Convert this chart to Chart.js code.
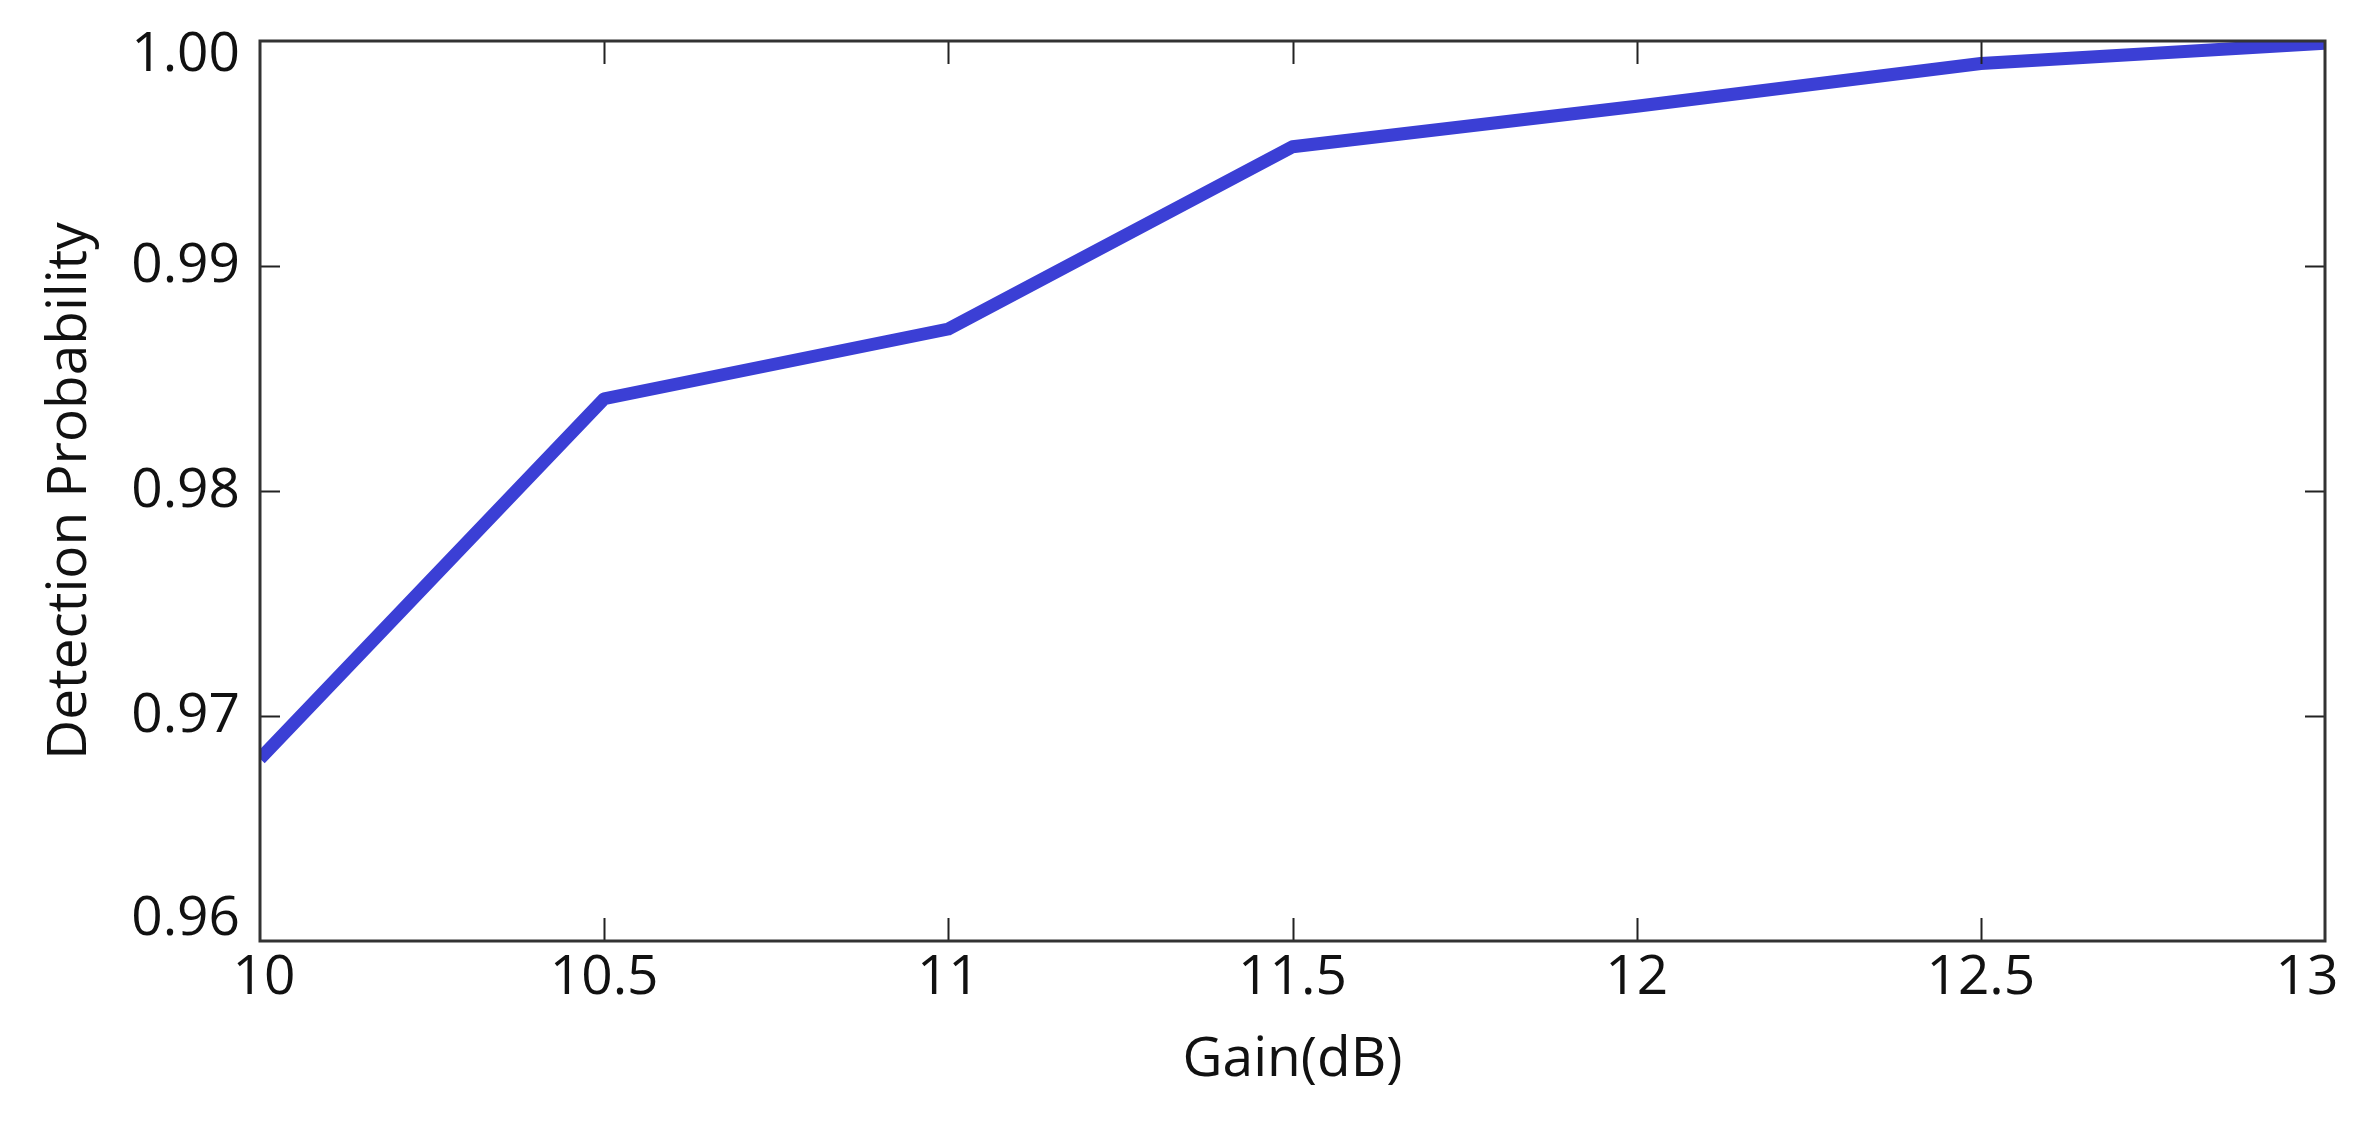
<!DOCTYPE html>
<html>
<head>
<meta charset="utf-8">
<script src="https://cdn.jsdelivr.net/npm/chart.js@4.4.0/dist/chart.umd.min.js"></script>
<style>
  html, body { margin: 0; padding: 0; background: #ffffff; }
  #wrap { width: 2368px; height: 1122px; position: relative; }
</style>
</head>
<body>
<div id="wrap"><canvas id="c"></canvas></div>
<script>
// ---- data ----
const gainDb = [10, 10.5, 11, 11.5, 12, 12.5, 13];
const detectionProbability = [0.9681, 0.9841, 0.9872, 0.9953, 0.9971, 0.9990, 0.9999];
const xTickValues = [10, 10.5, 11, 11.5, 12, 12.5, 13];
const yTickValues = [0.96, 0.97, 0.98, 0.99, 1.00];
const xTitle = 'Gain(dB)';
const yTitle = 'Detection Probability';

const points = gainDb.map((g, i) => ({ x: g, y: detectionProbability[i] }));

const FONT = "'Open Sans', 'DejaVu Sans', sans-serif";

// nudge the end tick labels inward, as in the reference
const endLabelPlugin = {
  id: 'endLabelPlugin',
  beforeDraw(chart) {
    const area = chart.chartArea;
    const xs = chart.scales.x, ys = chart.scales.y;
    const xi = xs.getLabelItems(area);
    const yi = ys.getLabelItems(area);
    if (!xs._nudged && xi.length) {
      xi[0].options.translation[0] += 4;
      xi[xi.length - 1].options.translation[0] -= 18;
      xs._nudged = true;
    }
    if (!ys._nudged && yi.length) {
      yi.forEach(it => {
        if (it.label === '0.96') it.options.translation[1] -= 22;
        if (it.label === '1.00') it.options.translation[1] += 14;
      });
      ys._nudged = true;
    }
  }
};

const boxPlugin = {
  id: 'boxPlugin',
  afterDatasetsDraw(chart) {
    const { ctx, chartArea: a, scales } = chart;
    ctx.save();
    ctx.strokeStyle = '#222';
    ctx.lineWidth = 2;
    ctx.beginPath();
    xTickValues.forEach(v => {
      if (v === xTickValues[0] || v === xTickValues[xTickValues.length - 1]) return;
      const px = Math.round(scales.x.getPixelForValue(v)) + 0.5;
      ctx.moveTo(px, a.bottom); ctx.lineTo(px, a.bottom - 23);
      ctx.moveTo(px, a.top); ctx.lineTo(px, a.top + 23);
    });
    yTickValues.forEach(v => {
      if (v === yTickValues[0] || v === yTickValues[yTickValues.length - 1]) return;
      const py = Math.round(scales.y.getPixelForValue(v)) + 0.5;
      ctx.moveTo(a.left, py); ctx.lineTo(a.left + 20, py);
      ctx.moveTo(a.right, py); ctx.lineTo(a.right - 20, py);
    });
    ctx.stroke();
    ctx.strokeStyle = '#333';
    ctx.lineWidth = 3;
    ctx.strokeRect(a.left, a.top, a.right - a.left, a.bottom - a.top);
    ctx.restore();
  }
};

new Chart(document.getElementById('c'), {
  type: 'line',
  data: {
    datasets: [{
      data: points,
      borderColor: '#3b3fd5',
      borderWidth: 13,
      pointRadius: 0,
      fill: false,
      tension: 0,
      borderJoinStyle: 'round',
      borderCapStyle: 'butt'
    }]
  },
  options: {
    responsive: true,
    maintainAspectRatio: false,
    animation: false,
    devicePixelRatio: 1,
    layout: { padding: { top: 41, right: 43, left: 0, bottom: 0 } },
    plugins: { legend: { display: false }, tooltip: { enabled: false } },
    scales: {
      x: {
        type: 'linear',
        min: 10, max: 13,
        afterBuildTicks(scale) { scale.ticks = xTickValues.map(v => ({ value: v })); },
        afterFit(scale) { scale.height = 181; scale.paddingLeft = 0; scale.paddingRight = 0; },
        grid: { display: false, drawTicks: false },
        border: { display: false },
        ticks: {
          color: '#111',
          font: { family: FONT, size: 55 },
          padding: 4,
          maxRotation: 0,
          autoSkip: false,
          callback: v => String(v)
        },
        title: {
          display: true,
          text: xTitle,
          color: '#111',
          font: { family: FONT, size: 55 },
          padding: { top: 0, bottom: 29 }
        }
      },
      y: {
        type: 'linear',
        min: 0.96, max: 1.00,
        afterBuildTicks(scale) { scale.ticks = yTickValues.map(v => ({ value: v })); },
        afterFit(scale) { scale.width = 260; scale.paddingTop = 0; scale.paddingBottom = 0; },
        grid: { display: false, drawTicks: false },
        border: { display: false },
        ticks: {
          color: '#111',
          font: { family: FONT, size: 55 },
          padding: 20,
          autoSkip: false,
          callback: v => Number(v).toFixed(2)
        },
        title: {
          display: true,
          text: yTitle,
          color: '#111',
          font: { family: FONT, size: 55 },
          padding: { top: 37, bottom: 0 }
        }
      }
    }
  },
  plugins: [endLabelPlugin, boxPlugin]
});
</script>
</body>
</html>
